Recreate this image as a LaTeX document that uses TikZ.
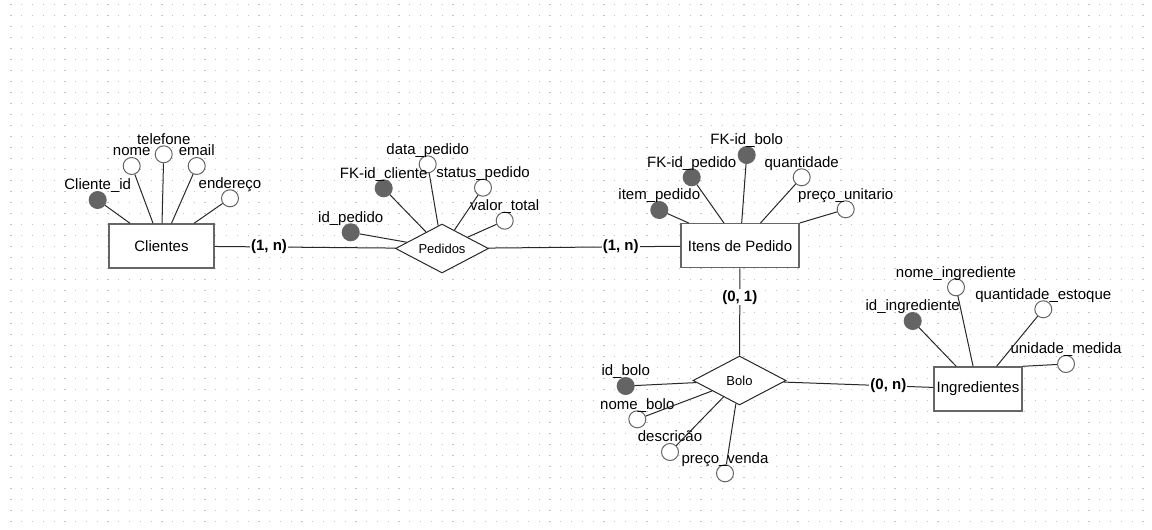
\documentclass[tikz,border=0pt]{standalone}
\usepackage{fontspec}
\setmainfont{Liberation Sans}
\definecolor{edgegray}{RGB}{40,40,40}
\definecolor{bordergray}{RGB}{102,102,102}
\definecolor{keyfill}{RGB}{100,100,100}
\definecolor{dotgray}{RGB}{195,195,195}
\usetikzlibrary{positioning, shapes.geometric}

\begin{document}
\begin{tikzpicture}[x=1pt, y=-1pt,
    entity/.style={draw=bordergray, line width=1.4pt, fill=white, minimum width=#1,
      minimum height=44pt, inner sep=0pt, font=\fontsize{15}{18}\selectfont},
    relation/.style={diamond, draw=edgegray, line width=1pt, fill=white, aspect=1.9,
      inner sep=0pt, minimum width=93pt, minimum height=49pt, font=\fontsize{13}{16}\selectfont},
    attr/.style={circle, draw=bordergray, line width=1pt, fill=white, minimum size=17pt, inner sep=0pt},
    key/.style={attr, fill=keyfill},
    lbl/.style={font=\fontsize{15}{18}\selectfont, inner sep=0pt, text height=11pt, text depth=3pt},
    card/.style={fill=white, inner sep=1pt, font=\bfseries\fontsize{15}{18}\selectfont},
    link/.style={draw=edgegray, line width=1pt},
    griddots/.style={dotgray, line width=1.2pt, dash pattern=on 1.2pt off 9.58pt},
  ]
    \useasboundingbox (0,0) rectangle (1152,530);
    \fill[white] (0,0) rectangle (1152,530);
    \foreach \k in {0,...,47}
      \draw[griddots] (10.4,{4.3+11*\k}) -- (1152,{4.3+11*\k});

    % entidades e relacionamentos
    \node[entity=105pt] (clientes) at (161.5,246) {Clientes};
    \node[entity=118pt] (itens) at (740,245.7) {Itens de Pedido};
    \node[entity=88pt] (ingredientes) at (978,389) {Ingredientes};
    \node[relation] (pedidos) at (442,248.5) {Pedidos};
    \node[relation] (bolo) at (739.5,380.5) {Bolo};

    % atributos
    \node[key] (cliid) at (97.7,200) {};
    \node[attr] (clinome) at (131.7,166) {};
    \node[attr] (clitel) at (163.7,154.3) {};
    \node[attr] (cliemail) at (196.7,166) {};
    \node[attr] (cliend) at (230,198.3) {};

    \node[key] (pedid) at (350.7,232.3) {};
    \node[key] (pedcli) at (383.7,188.3) {};
    \node[attr] (peddata) at (427.7,164.3) {};
    \node[attr] (pedstatus) at (483,187.7) {};
    \node[attr] (pedvalor) at (504.7,220.7) {};

    \node[key] (itemid) at (659.3,210) {};
    \node[key] (itemped) at (691.7,177.3) {};
    \node[key] (itembolo) at (746.7,155) {};
    \node[attr] (itemqtd) at (801.7,177.3) {};
    \node[attr] (itempreco) at (845.7,209.3) {};

    \node[key] (boloid) at (625.7,386) {};
    \node[attr] (bolonome) at (637.3,419.3) {};
    \node[attr] (bolodesc) at (670,452) {};
    \node[attr] (bolopreco) at (725,473.3) {};

    \node[key] (ingid) at (912.7,321) {};
    \node[attr] (ingnome) at (956,287.3) {};
    \node[attr] (ingqtd) at (1043.3,309.3) {};
    \node[attr] (ingunid) at (1066,364) {};

    \foreach \n/\t in {cliid/Cliente\_id, clinome/nome, clitel/telefone, cliemail/email,
        cliend/endereço, pedid/id\_pedido, pedcli/FK-id\_cliente, peddata/data\_pedido,
        pedstatus/status\_pedido, pedvalor/valor\_total, itemid/item\_pedido,
        itemped/FK-id\_pedido, itembolo/FK-id\_bolo, itemqtd/quantidade,
        itempreco/preço\_unitario, boloid/id\_bolo, bolonome/nome\_bolo,
        bolodesc/descricão, bolopreco/preço\_venda, ingid/id\_ingrediente,
        ingnome/nome\_ingrediente, ingqtd/quantidade\_estoque, ingunid/unidade\_medida}
      \node[lbl, above=-2pt of \n] (\n-t) {\t};

    % ligacoes
    \foreach \a in {cliid, clinome, clitel, cliemail, cliend}
      \draw[link] (\a) -- (clientes);
    \foreach \a in {pedid, pedcli, peddata, pedstatus, pedvalor}
      \draw[link] (\a) -- (pedidos);
    \foreach \a in {itemid, itemped, itembolo, itemqtd}
      \draw[link] (\a) -- (itens);
    \draw[link] (itempreco) -- (itens.north east);
    \foreach \a in {boloid, bolonome, bolodesc, bolopreco}
      \draw[link] (\a) -- (bolo);
    \foreach \a in {ingid, ingnome, ingqtd}
      \draw[link] (\a) -- (ingredientes);
    \draw[link] (ingunid) -- (ingredientes.north east);

    \draw[link] (clientes) -- node[card, pos=0.30] (card1) {(1, n)} (pedidos);
    \draw[link] (pedidos) -- node[card, pos=0.69] (card2) {(1, n)} (itens);
    \draw[link] (itens) -- node[card, pos=0.33] (card3) {(0, 1)} (bolo);
    \draw[link] (bolo) -- node[card, pos=0.70] (card4) {(0, n)} (ingredientes);
  \end{tikzpicture}
\end{document}
